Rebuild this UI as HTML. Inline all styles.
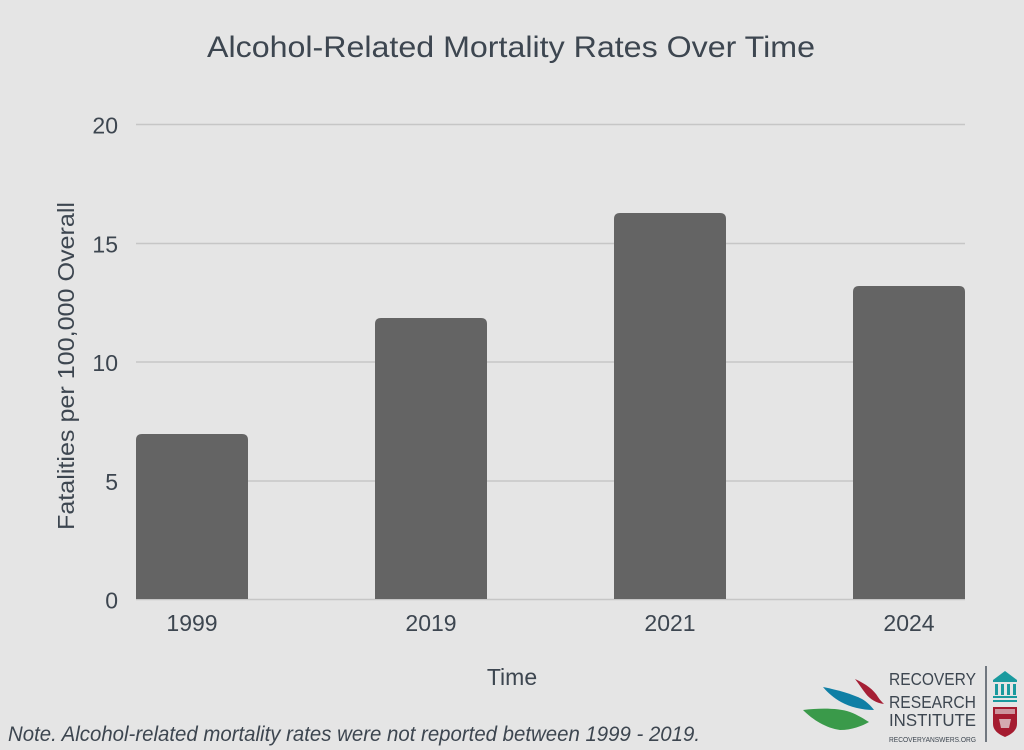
<!DOCTYPE html>
<html><head><meta charset="utf-8"><style>
html,body{margin:0;padding:0;background:#e5e5e5;}
svg{display:block;}
text{font-family:"Liberation Sans",sans-serif;fill:#3d4650;}
</style></head><body>
<svg width="1024" height="750" viewBox="0 0 1024 750" xmlns="http://www.w3.org/2000/svg">
<rect x="0" y="0" width="1024" height="750" fill="#e5e5e5"/>
<text x="207" y="57" font-size="30" textLength="608" lengthAdjust="spacingAndGlyphs">Alcohol-Related Mortality Rates Over Time</text>
<g stroke="#c6c6c6" stroke-width="1.5">
<line x1="136" y1="124.5" x2="965" y2="124.5"/>
<line x1="136" y1="243.5" x2="965" y2="243.5"/>
<line x1="136" y1="362" x2="965" y2="362"/>
<line x1="136" y1="481" x2="965" y2="481"/>
<line x1="136" y1="599.5" x2="965" y2="599.5"/>
</g>
<g font-size="23" text-anchor="end">
<text x="118" y="133.5">20</text>
<text x="118" y="252.5">15</text>
<text x="118" y="371">10</text>
<text x="118" y="490">5</text>
<text x="118" y="608.5">0</text>
</g>
<g fill="#646464">
<path d="M136,599 L136,440 Q136,434 142,434 L242,434 Q248,434 248,440 L248,599 Z"/>
<path d="M375,599 L375,324 Q375,318 381,318 L481,318 Q487,318 487,324 L487,599 Z"/>
<path d="M614,599 L614,219 Q614,213 620,213 L720,213 Q726,213 726,219 L726,599 Z"/>
<path d="M853,599 L853,292 Q853,286 859,286 L959,286 Q965,286 965,292 L965,599 Z"/>
</g>
<g font-size="23" text-anchor="middle">
<text x="192" y="631">1999</text>
<text x="431" y="631">2019</text>
<text x="670" y="631">2021</text>
<text x="909" y="631">2024</text>
<text x="512" y="685">Time</text>
</g>
<text transform="translate(74,366) rotate(-90)" font-size="23" text-anchor="middle" textLength="328" lengthAdjust="spacingAndGlyphs">Fatalities per 100,000 Overall</text>
<text x="8" y="741" font-size="21" font-style="italic" textLength="692" lengthAdjust="spacingAndGlyphs">Note. Alcohol-related mortality rates were not reported between 1999 - 2019.</text>
<!-- logo -->
<path d="M855,679 C866,684 874,690 878,697 C880,700 882,702 884,704 C876,703 870,699 866,694 C862,689 859,684 855,679 Z" fill="#a51f35"/>
<path d="M823,687 C838,690 852,694 862,699 C867,702 871,706 874,710 C862,710 850,707 841,702 C834,698 828,693 823,687 Z" fill="#0f7fa5"/>
<path d="M803,710 C820,708 838,708 850,712 C858,715 864,719 869,722 C862,726 852,730 840,730 C826,728 813,720 803,710 Z" fill="#3a9a4a"/>
<g font-size="17.5">
<text x="889" y="685" textLength="87" lengthAdjust="spacingAndGlyphs" fill="#4a545e">RECOVERY</text>
<text x="889" y="708" textLength="87" lengthAdjust="spacingAndGlyphs" fill="#4a545e">RESEARCH</text>
<text x="889" y="726" textLength="87" lengthAdjust="spacingAndGlyphs" fill="#3fa34d">INSTITUTE</text>
</g>
<text x="889" y="742" font-size="7" textLength="87" lengthAdjust="spacingAndGlyphs" fill="#4a545e">RECOVERYANSWERS.ORG</text>
<line x1="986" y1="666" x2="986" y2="742" stroke="#4a545e" stroke-width="1.5"/>
<g fill="#1a9a9e">
<path d="M993,680 L1005,671 L1017,680 L1017,682 L993,682 Z"/>
<rect x="995" y="684" width="3" height="11"/>
<rect x="1001" y="684" width="3" height="11"/>
<rect x="1007" y="684" width="3" height="11"/>
<rect x="1013" y="684" width="3" height="11"/>
<rect x="993" y="696" width="24" height="2"/>
<rect x="993" y="700" width="24" height="2"/>
</g>
<path d="M993,707 L1017,707 L1017,724 Q1017,732 1005,737 Q993,732 993,724 Z" fill="#a51c30"/>
<rect x="995" y="709" width="20" height="5" fill="#e8e8e8" opacity="0.6"/>
<path d="M999,719 L1011,719 L1009,728 L1001,728 Z" fill="#e8e8e8" opacity="0.7"/>
</svg>
</body></html>
